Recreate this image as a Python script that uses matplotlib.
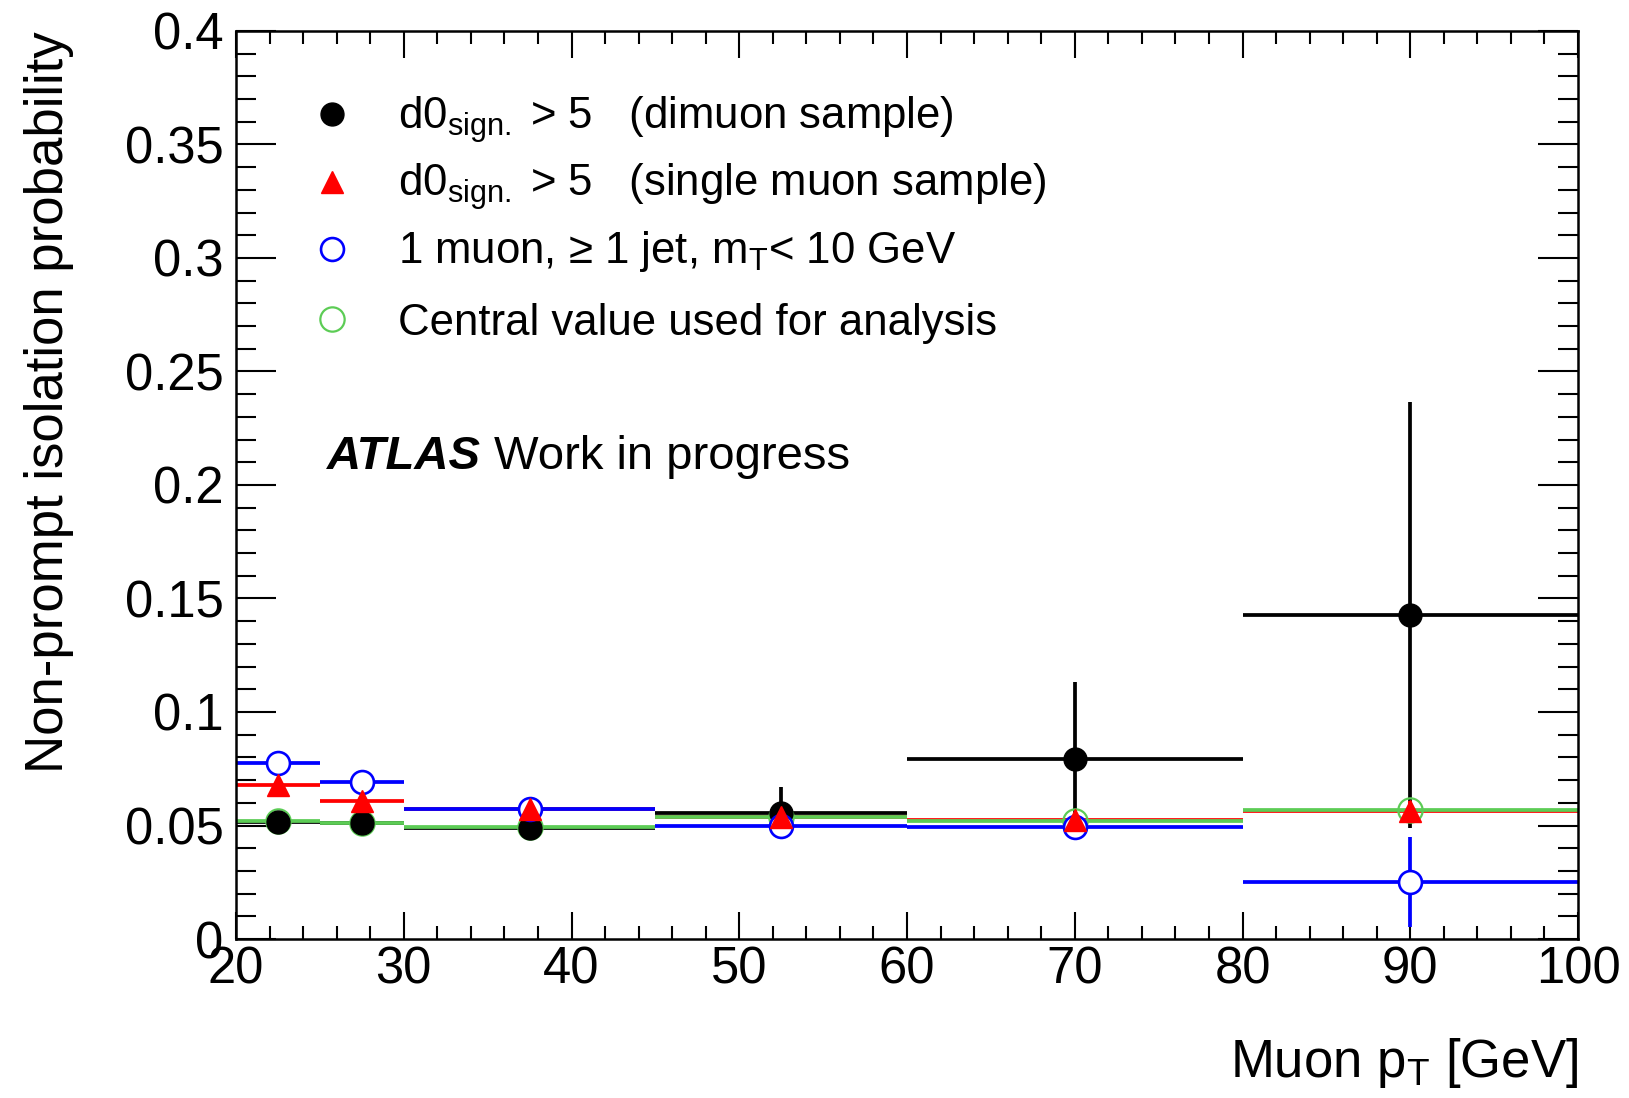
import numpy as np
import matplotlib
matplotlib.use('Agg')
import matplotlib.pyplot as plt
from matplotlib.ticker import MultipleLocator, FuncFormatter

# font setup (ROOT / Helvetica look)
plt.rcParams['font.family'] = ['Liberation Sans', 'DejaVu Sans']
plt.rcParams['mathtext.fontset'] = 'custom'
plt.rcParams['mathtext.rm'] = 'Liberation Sans'
plt.rcParams['mathtext.it'] = 'Liberation Sans:italic'

# bins in muon pT [GeV]
bin_lo = np.array([20, 25, 30, 45, 60, 80])
bin_hi = np.array([25, 30, 45, 60, 80, 100])

# d0 significance > 5, dimuon sample
dimuon = np.array([0.0517, 0.0510, 0.0490, 0.0556, 0.0792, 0.1427])
dimuon_err = np.array([0.002, 0.002, 0.002, 0.0114, 0.034, 0.094])
# d0 significance > 5, single muon sample
single = np.array([0.0677, 0.0608, 0.0572, 0.0537, 0.0523, 0.0566])
single_err = np.array([0.003, 0.003, 0.002, 0.002, 0.002, 0.004])
# 1 muon, >= 1 jet, mT < 10 GeV
onejet = np.array([0.0777, 0.0690, 0.0574, 0.0498, 0.0495, 0.0251])
onejet_err = np.array([0.002, 0.002, 0.001, 0.002, 0.002, 0.020])
# central value used for the analysis
central = np.array([0.0520, 0.0511, 0.0493, 0.0537, 0.0521, 0.0568])

labels = [
    'd0$_\\mathrm{sign.}$ > 5   (dimuon sample)',
    'd0$_\\mathrm{sign.}$ > 5   (single muon sample)',
    '1 muon, \u2265 1 jet, m$_\\mathrm{T}$< 10 GeV',
    'Central value used for analysis',
]

x = (bin_lo + bin_hi) / 2.0
xerr = (bin_hi - bin_lo) / 2.0

fig = plt.figure(figsize=(16.29, 10.98), dpi=100)
ax = fig.add_axes([0.1449, 0.1448, 0.8238, 0.8270])

green = '#5ccc55'
lw = 2.7

# marker styles, shared with the legend
st_dimuon = dict(marker='o', ms=16.5, color='black')
st_single = dict(marker='^', ms=16.5, color='red')
st_onejet = dict(marker='o', ms=16.5, mfc='white', mec='blue', mew=1.9)
st_central = dict(marker='o', ms=17.5, mfc='none', mec=green, mew=1.6)

# error bars (lines) first
ax.errorbar(x, dimuon, xerr=xerr, yerr=dimuon_err, fmt='none', ecolor='black', elinewidth=lw, zorder=2)
ax.errorbar(x, single, xerr=xerr, yerr=single_err, fmt='none', ecolor='red', elinewidth=lw, zorder=2.1)
ax.errorbar(x, onejet, xerr=xerr, yerr=onejet_err, fmt='none', ecolor='blue', elinewidth=lw, zorder=2.2)
ax.errorbar(x, central, xerr=xerr, fmt='none', ecolor=green, elinewidth=lw, zorder=2.3)

# markers
ax.plot(x, central, ls='none', zorder=3, **st_central)
ax.plot(x, dimuon, ls='none', zorder=4, **st_dimuon)
ax.plot(x, onejet, ls='none', zorder=5, **st_onejet)
ax.plot(x, single, ls='none', zorder=6, **st_single)

ax.set_xlim(20, 100)
ax.set_ylim(0, 0.4)
ax.xaxis.set_major_locator(MultipleLocator(10))
ax.xaxis.set_minor_locator(MultipleLocator(2))
ax.yaxis.set_major_locator(MultipleLocator(0.05))
ax.yaxis.set_minor_locator(MultipleLocator(0.01))
ax.yaxis.set_major_formatter(FuncFormatter(lambda v, p: '%g' % round(v, 3)))

ax.tick_params(which='both', direction='in', top=True, right=True, width=1.5, labelsize=36.5)
ax.tick_params(axis='x', which='major', length=19.5, pad=5)
ax.tick_params(axis='x', which='minor', length=9.5)
ax.tick_params(axis='y', which='major', length=29, pad=9)
ax.tick_params(axis='y', which='minor', length=14.5)
for s in ax.spines.values():
    s.set_linewidth(1.8)

ax.set_xlabel('Muon p$_\\mathrm{T}$ [GeV]', fontsize=38, loc='right')
ax.xaxis.set_label_coords(1.0, -0.107)
ax.set_ylabel('Non-prompt isolation probability', fontsize=38, loc='top')
ax.yaxis.set_label_coords(-0.121, 1.0)

# legend drawn by hand (ROOT TLegend style, markers only)
leg_marker_y = [0.9086, 0.8337, 0.7599, 0.6828]
leg_text_y = [0.8921, 0.8183, 0.7445, 0.6652]
for st, lab, my, ty in zip([st_dimuon, st_single, st_onejet, st_central], labels,
                           leg_marker_y, leg_text_y):
    ax.plot([0.0715], [my], ls='none', transform=ax.transAxes, clip_on=False, **st)
    ax.text(0.1205, ty, lab, transform=ax.transAxes, fontsize=31.5, va='baseline')

ax.text(0.0678, 0.531, 'ATLAS', transform=ax.transAxes, fontsize=34, fontweight='bold',
        fontstyle='italic', va='center')
ax.text(0.1919, 0.531, 'Work in progress', transform=ax.transAxes, fontsize=34, va='center')

fig.savefig('out.png', dpi=100)
